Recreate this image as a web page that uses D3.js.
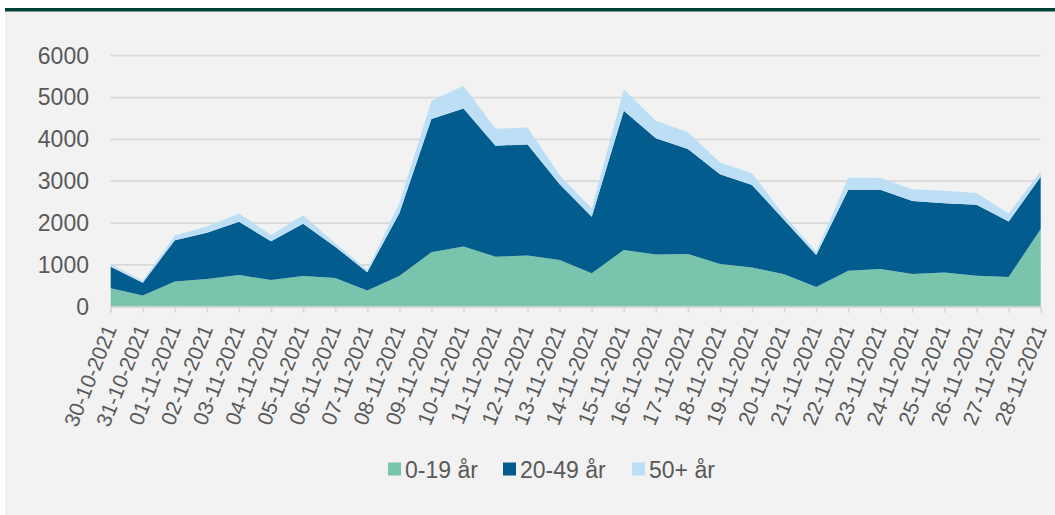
<!DOCTYPE html>
<html>
<head>
<meta charset="utf-8">
<script src="https://cdn.jsdelivr.net/npm/d3@7"></script>
<style>
  body { margin: 0; background: #fff; }
  svg { display: block; font-family: "Liberation Sans", Arial, sans-serif; }
</style>
</head>
<body>
<div id="chart"></div>
<script>
// dates on the x axis
const DATES = [
  '30-10-2021', '31-10-2021', '01-11-2021', '02-11-2021', '03-11-2021',
  '04-11-2021', '05-11-2021', '06-11-2021', '07-11-2021', '08-11-2021',
  '09-11-2021', '10-11-2021', '11-11-2021', '12-11-2021', '13-11-2021',
  '14-11-2021', '15-11-2021', '16-11-2021', '17-11-2021', '18-11-2021',
  '19-11-2021', '20-11-2021', '21-11-2021', '22-11-2021', '23-11-2021',
  '24-11-2021', '25-11-2021', '26-11-2021', '27-11-2021', '28-11-2021'
]
const AGE_0_19 = [440, 265, 600, 660, 755, 640, 735, 685, 385, 735,
  1300, 1440, 1195, 1225, 1115, 800, 1355, 1250, 1260, 1020,
  940, 775, 470, 860, 900, 780, 820, 740, 710, 1855]
const AGE_20_49 = [515, 310, 990, 1110, 1275, 925, 1245, 750, 440, 1500,
  3185, 3300, 2655, 2655, 1815, 1350, 3330, 2775, 2510, 2145,
  1970, 1300, 765, 1935, 1895, 1745, 1655, 1695, 1325, 1250]
const AGE_50 = [65, 45, 110, 145, 200, 150, 205, 80, 55, 240,
  430, 540, 405, 405, 215, 200, 510, 420, 400, 285,
  280, 105, 80, 285, 280, 285, 295, 280, 190, 135]
const SERIES = ['0-19 år', '20-49 år', '50+ år']
const COLORS = ['#78c4ac', '#035c8e', '#bddff5']
const Y_TICKS = [0, 1000, 2000, 3000, 4000, 5000, 6000]

const W = 1055
const H = 515
const textColor = '#595959'
const fontFam = '"Liberation Sans", Arial, sans-serif'

const svg = d3.select('#chart').append('svg')
  .attr('width', W)
  .attr('height', H)

// panel background and top bar
svg.append('rect').attr('x', 5).attr('y', 11).attr('width', W - 5).attr('height', H - 11).attr('fill', '#f2f2f2')
svg.append('rect').attr('x', 5).attr('y', 8).attr('width', W - 5).attr('height', 3.5).attr('fill', '#004438')

const xScale = d3.scalePoint().domain(DATES).range([110.7, 1040.7])
const yScale = d3.scaleLinear().domain([0, 6000]).range([306.7, 55.7])

// gridlines
svg.append('g')
  .selectAll('line')
  .data(Y_TICKS)
  .enter()
  .append('line')
  .attr('x1', 110.7).attr('x2', 1040.7)
  .attr('y1', d => yScale(d)).attr('y2', d => yScale(d))
  .attr('stroke', '#d9d9d9').attr('stroke-width', 1.7)

// y axis labels
const yAxis = svg.append('g')
  .attr('transform', 'translate(110,0)')
  .call(d3.axisLeft(yScale).tickValues(Y_TICKS).tickFormat(d3.format('d')).tickSize(0).tickPadding(21))
yAxis.select('.domain').remove()
yAxis.selectAll('text')
  .attr('fill', textColor)
  .style('font-size', '23px')
  .style('font-family', fontFam)

// stacked areas
const rows = DATES.map((d, i) => ({ date: d, a: AGE_0_19[i], b: AGE_20_49[i], c: AGE_50[i] }))
const stack = d3.stack().keys(['a', 'b', 'c'])
const layers = stack(rows)

const area = d3.area()
  .x(d => xScale(d.data.date))
  .y0(d => yScale(d[0]))
  .y1(d => yScale(d[1]))

svg.append('g')
  .selectAll('path')
  .data(layers)
  .enter()
  .append('path')
  .attr('d', area)
  .attr('fill', (d, i) => COLORS[i])

// x axis ticks and labels
const xAxis = svg.append('g')
  .attr('transform', 'translate(0,' + yScale(0) + ')')
  .call(d3.axisBottom(xScale).tickSize(6).tickPadding(0))
xAxis.select('.domain').attr('stroke', '#d9d9d9').attr('stroke-width', 1.7)
xAxis.selectAll('.tick line').attr('stroke', '#d9d9d9').attr('stroke-width', 1.7)
xAxis.selectAll('text')
  .attr('fill', textColor)
  .style('font-size', '21px')
  .style('font-family', fontFam)
  .attr('text-anchor', 'end')
  .attr('dy', 0)
  .attr('y', 0)
  .attr('transform', 'translate(6,22) rotate(-68)')

// legend
const legendItems = [
  { label: SERIES[0], color: COLORS[0], x: 388 },
  { label: SERIES[1], color: COLORS[1], x: 503 },
  { label: SERIES[2], color: COLORS[2], x: 632 }
]
const legend = svg.append('g')
legend.selectAll('rect')
  .data(legendItems)
  .enter()
  .append('rect')
  .attr('x', d => d.x).attr('y', 462.5)
  .attr('width', 13).attr('height', 13)
  .attr('fill', d => d.color)
legend.selectAll('text')
  .data(legendItems)
  .enter()
  .append('text')
  .attr('x', d => d.x + 17).attr('y', 478)
  .attr('fill', textColor)
  .style('font-size', '23px')
  .style('font-family', fontFam)
  .text(d => d.label)
</script>
</body>
</html>
